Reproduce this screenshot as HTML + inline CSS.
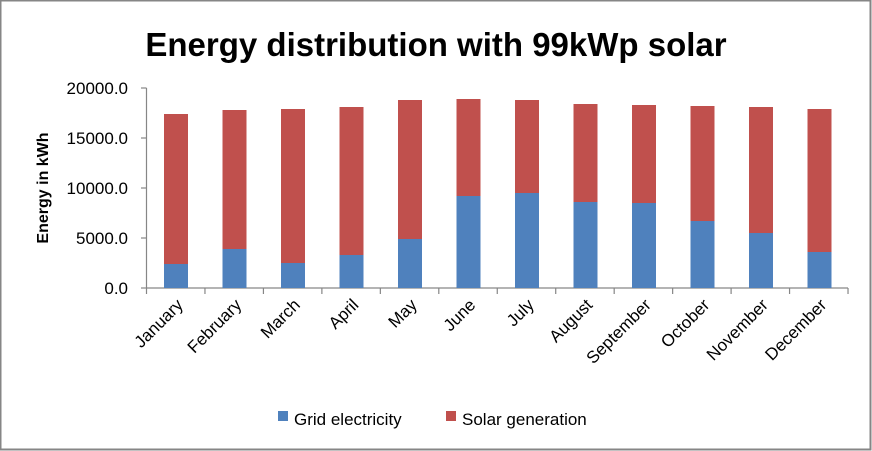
<!DOCTYPE html>
<html><head><style>
body{margin:0;background:#fff}
svg{display:block}
text{font-family:"Liberation Sans",sans-serif}
</style></head><body>
<svg width="872" height="451" viewBox="0 0 872 451" xmlns="http://www.w3.org/2000/svg">
<rect x="0.5" y="0.5" width="870" height="449" fill="#fff" stroke="#868686" stroke-width="2"/>
<text x="436" y="56" text-anchor="middle" font-size="33" font-weight="bold" fill="#000">Energy distribution with 99kWp solar</text>
<g font-size="17" fill="#000" text-anchor="end">
<text x="128" y="94">20000.0</text>
<text x="128" y="144">15000.0</text>
<text x="128" y="194">10000.0</text>
<text x="128" y="244">5000.0</text>
<text x="128" y="294">0.0</text>
</g>
<text transform="translate(48,188) rotate(-90)" text-anchor="middle" font-size="16" font-weight="bold">Energy in kWh</text>
<g stroke="#868686" stroke-width="1.2">
<line x1="146.5" y1="88" x2="146.5" y2="288"/>
<line x1="141" y1="88" x2="146.5" y2="88"/><line x1="141" y1="138" x2="146.5" y2="138"/><line x1="141" y1="188" x2="146.5" y2="188"/><line x1="141" y1="238" x2="146.5" y2="238"/><line x1="141" y1="288" x2="146.5" y2="288"/>
<line x1="146.5" y1="288" x2="848" y2="288"/>
</g>
<g id="bars"></g>
<g id="ticks" stroke="#868686" stroke-width="1.2"></g>
<g id="labels" font-size="17" fill="#000" text-anchor="end"></g>
<rect x="278" y="411" width="10" height="10" fill="#4f81bd"/>
<text x="294" y="425" font-size="17">Grid electricity</text>
<rect x="446" y="411" width="10" height="10" fill="#c0504d"/>
<text x="462" y="425" font-size="17">Solar generation</text>
<script>
var tops=[114,110,109,107,100,99,100,104,105,106,107,109];
var grid=[264,249,263,255,239,196,193,202,203,221,233,252];
var names=["January","February","March","April","May","June","July","August","September","October","November","December"];
var ns="http://www.w3.org/2000/svg",b=document.getElementById("bars"),t=document.getElementById("ticks"),l=document.getElementById("labels");
function el(tag,a,p){var e=document.createElementNS(ns,tag);for(var k in a)e.setAttribute(k,a[k]);p.appendChild(e);return e;}
for(var i=0;i<12;i++){var x=164+58.5*i;
el("rect",{x:x,y:tops[i],width:24,height:grid[i]-tops[i],fill:"#c0504d"},b);
el("rect",{x:x,y:grid[i],width:24,height:288-grid[i],fill:"#4f81bd"},b);
var cx=x+12;
var tt=el("text",{transform:"translate("+(cx+8)+",306) rotate(-45)"},l);tt.textContent=names[i];}
for(var i=0;i<=12;i++){var x=146.5+58.46*i;el("line",{x1:x,y1:288,x2:x,y2:294},t);}
</script>
</svg>
</body></html>
